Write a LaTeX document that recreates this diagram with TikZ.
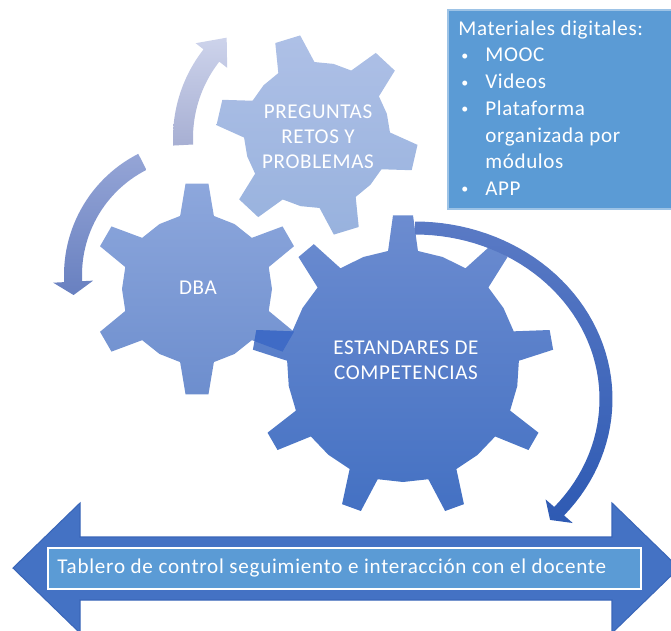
\documentclass[tikz,border=0pt]{standalone}
\usepackage{fontspec}
\setmainfont{Carlito}[LetterSpace=3]
\definecolor{boxblue}{HTML}{5B9BD5}
\definecolor{boxedge}{HTML}{9DC3E6}
\definecolor{barblue}{HTML}{4472C4}
\definecolor{baredge}{HTML}{3A66B8}
\definecolor{arrAtop}{HTML}{CDD3EB}
\definecolor{arrAbot}{HTML}{A7AFD3}
\definecolor{arrBtop}{HTML}{95A5D6}
\definecolor{arrBbot}{HTML}{6880C0}
\definecolor{arrCtop}{HTML}{5A7AC5}
\definecolor{arrCbot}{HTML}{2E5AB3}
\definecolor{pregtop}{HTML}{AEC0E6}
\definecolor{pregbot}{HTML}{98B2DE}
\definecolor{dbatop}{HTML}{8DA7DC}
\definecolor{dbabot}{HTML}{6D8ECE}
\definecolor{esttop}{HTML}{6C8CD0}
\definecolor{estbot}{HTML}{4471C3}
\definecolor{overlap}{HTML}{3F6BC6}
\newcommand\gearpath[6]{({#4-180/#1}:#2) \foreach \k [evaluate=\k as \a using {#4+(\k-1)*360/#1}] in {1,...,#1}{ -- ({\a-#5}:#2) -- ({\a-#6}:#3) -- ({\a+#6}:#3) -- ({\a+#5}:#2) -- ({\a+180/#1}:#2)} -- cycle}
\newcommand\smallbul{{\fontsize{8}{8}\selectfont\raisebox{0.8pt}{\textbullet}}}
\begin{document}
\begin{tikzpicture}[x=0.02cm, y=-0.02cm,
	gearlabel/.style={text=white, align=center, inner sep=0pt, font=\fontsize{12}{14.2}\selectfont},
	listtext/.style={text=white, anchor=base west, inner sep=0pt, font=\fontsize{12}{14}\selectfont}]
	\useasboundingbox (0,0) rectangle (671,630);
	\clip (0,0) rectangle (671,630);
	\shade[top color=arrAtop, bottom color=arrAbot, shift={(317,138)}] plot[domain=177:218, samples=30] (\x:144) -- (218:154) -- (228:135) -- (218:114) -- plot[domain=218:177, samples=30] (\x:124) -- cycle;
	\shade[top color=arrBtop, bottom color=arrBbot, shift={(200,275)}] plot[domain=243:177, samples=30] (\x:136) -- (177:147) -- (171:128) -- (177:107) -- plot[domain=177:243, samples=30] (\x:118) -- cycle;
	\shade[top color=pregtop, bottom color=pregbot, shift={(317,135)}] \gearpath{6}{73}{101}{13}{15}{7.4};
	\shade[top color=dbatop, bottom color=dbabot, shift={(197,289)}] \gearpath{6}{75}{106}{-90}{13}{6.2};
	\shade[top color=esttop, bottom color=estbot, shift={(403,366)}] \gearpath{9}{116}{151}{-90}{7.4}{3.8};
	\begin{scope}
		\clip[shift={(197,289)}] \gearpath{6}{75}{106}{-90}{13}{6.2};
		\fill[overlap, shift={(403,366)}] \gearpath{9}{116}{151}{-90}{7.4}{3.8};
	\end{scope}
	\shade[top color=arrCtop, bottom color=arrCbot, shift={(415,399)}] plot[domain=-90:41, samples=50] (\x:197.5 and 177.5) -- (41:209 and 189) -- (45:191 and 171) -- (41:173 and 153) -- plot[domain=41:-90, samples=50] (\x:184.5 and 164.5) -- cycle;
	\node[gearlabel] (preg) at (318,137) {PREGUNTAS\\RETOS Y\\PROBLEMAS};
	\node[gearlabel] (dba) at (198,288) {DBA};
	\node[gearlabel] (est) at (406,360) {ESTANDARES DE\\COMPETENCIAS};
	\filldraw[fill=boxblue, draw=boxedge, line width=0.6pt] (448,10) rectangle (690,209);
	\node[listtext] (mat) at (458,35) {Materiales digitales:};
	\foreach \n/\y/\t in {mooc/61.7/MOOC, videos/88.4/Videos, plat/115/Plataforma, app/195/APP} {
		\node[listtext] (bul-\n) at (461,\y) {\smallbul};
		\node[listtext] (\n) at (485,\y) {\t};
	}
	\node[listtext] (org) at (485,142) {organizada por};
	\node[listtext] (mod) at (485,168.5) {módulos};
	\filldraw[fill=barblue, draw=baredge, line width=0.6pt] (13,568) -- (80,503) -- (80,537) -- (612,537) -- (612,503) -- (679,568) -- (612,633) -- (612,600) -- (80,600) -- (80,633) -- cycle;
	\filldraw[fill=boxblue, draw=white, line width=0.8pt] (48,548) rectangle (641,589);
	\node[listtext, font=\fontsize{12}{14}\selectfont\addfontfeature{LetterSpace=3.6}] (tablero) at (57,573) {Tablero de control seguimiento e interacción con el docente};
\end{tikzpicture}
\end{document}
